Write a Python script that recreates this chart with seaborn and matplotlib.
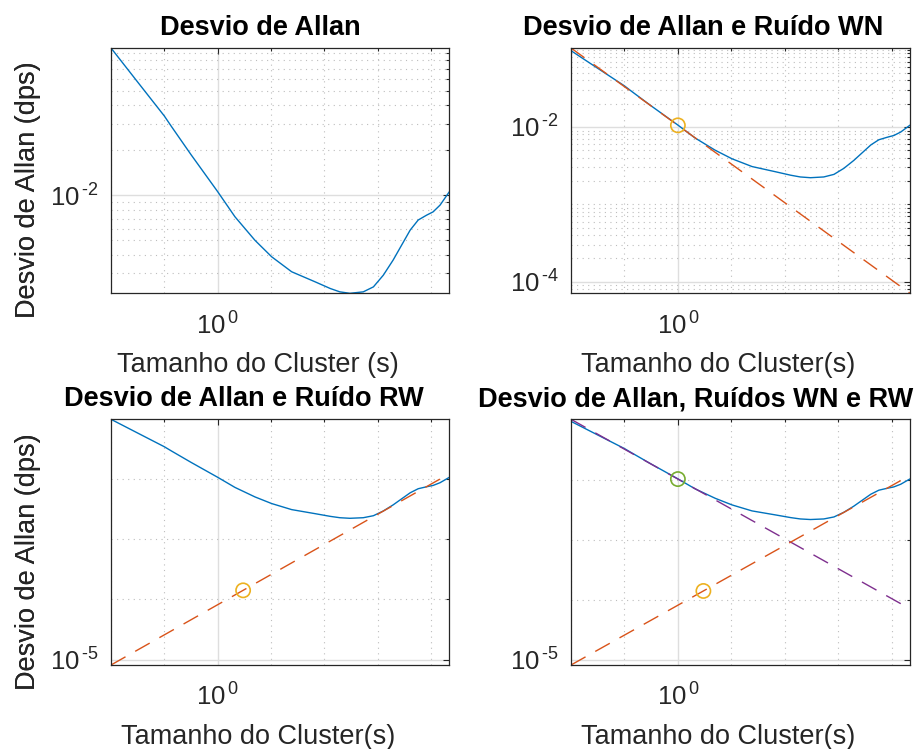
import numpy as np
import matplotlib
matplotlib.use("Agg")
import matplotlib.pyplot as plt
from matplotlib.ticker import FixedLocator, FuncFormatter, NullFormatter
import seaborn as sns

# Allan deviation of the gyro: cluster time (s) and deviation (dps)
tau = [0.01, 0.0316, 0.1, 0.137, 0.316, 1.0, 2.11, 5.01, 10.3, 24.4, 66.8,
       129, 195, 302, 537, 832, 1274, 1950, 2818, 4074, 5754, 8318,
       10965, 14791, 22030]
adev = [0.0970, 0.0574, 0.0340, 0.0288, 0.01875, 0.01059, 0.00719, 0.00500,
        0.00388, 0.00308, 0.00264, 0.00238, 0.00226, 0.00221, 0.00226,
        0.00244, 0.00292, 0.00369, 0.00465, 0.00586, 0.00684, 0.00738,
        0.00776, 0.00861, 0.01057]

# White-noise (angle random walk) fit line, slope -1/2, and its point at tau = 1 s
wn_tau = [0.01, 22030]
wn_adev = [0.105, 7.08e-5]
wn_point = (1.0, 0.0105)

# Rate random walk fit line, slope +1/2, and its point at tau = 3 s
rw_tau = [0.01, 22030]
rw_adev = [8.14e-6, 0.0121]
rw_point = (3.0, 1.41e-4)

titles = ["Desvio de Allan", "Desvio de Allan e Ruído WN",
          "Desvio de Allan e Ruído RW", "Desvio de Allan, Ruídos WN e RW"]
xlabels = ["Tamanho do Cluster (s)", "Tamanho do Cluster(s)",
           "Tamanho do Cluster(s)", "Tamanho do Cluster(s)"]
ylabel = "Desvio de Allan (dps)"

BLUE, ORANGE, YELLOW, PURPLE, GREEN = "#0072BD", "#D95319", "#EDB120", "#7E2F8E", "#77AC30"
INK = "#262626"

sns.set_style("white")
plt.rcParams.update({
    "font.family": ["Liberation Sans", "DejaVu Sans"],
    "mathtext.fontset": "custom",
    "mathtext.rm": "Liberation Sans",
    "mathtext.it": "Liberation Sans:italic",
    "mathtext.bf": "Liberation Sans:bold",
    "axes.axisbelow": True,
})

W, H = 920, 749
fig = plt.figure(figsize=(W / 100, H / 100), dpi=100)

# axes boxes in pixels: left, top, right, bottom
boxes = [(111, 48, 449.3, 293.3), (571, 48, 910, 293.3),
         (111, 419.3, 449.3, 665), (571, 419.3, 910, 665)]
title_x = [0.440, 0.389, 0.393, 0.369]

def pow10(v, pos):
    e = int(round(np.log10(v)))
    return r"$\mathregular{10^{\,\text{%d}}}$" % e

def decades(a, b):
    return [10.0 ** k for k in range(a, b + 1)]

def multiples(a, b):
    return [m * 10.0 ** k for k in range(a, b + 1) for m in range(1, 10)]

ymajor = [[1e-2], [1e-4, 1e-2], [1e-5], [1e-5]]
yminor = [
    [v for v in multiples(-4, -1) if abs(np.log10(v) + 2) > 1e-9],
    [v for v in multiples(-5, -1) if abs(np.log10(v) + 2) > 1e-9 and abs(np.log10(v) + 4) > 1e-9],
    decades(-4, -2),
    decades(-4, -2),
]

def circle(ax, pt, color):
    sns.scatterplot(x=[pt[0]], y=[pt[1]], ax=ax, marker="o", s=105,
                    color=color, facecolor="none", edgecolor=color,
                    linewidth=1.2, zorder=5, clip_on=False)

def fit_line(ax, xs, ys, color):
    sns.lineplot(x=xs, y=ys, ax=ax, color=color, lw=1.0,
                 ls=(0, (12, 8)), estimator=None, sort=False)

for i, (l, t, r, b) in enumerate(boxes):
    ax = fig.add_axes([l / W, 1 - b / H, (r - l) / W, (b - t) / H])
    ax.set_xscale("log")
    ax.set_yscale("log")

    ys = list(adev)
    sns.lineplot(x=tau, y=adev, ax=ax, color=BLUE, lw=1.0, estimator=None, sort=False)
    if i == 1:
        fit_line(ax, wn_tau, wn_adev, ORANGE)
        circle(ax, wn_point, YELLOW)
        ys += wn_adev
    if i == 2:
        fit_line(ax, rw_tau, rw_adev, ORANGE)
        circle(ax, rw_point, YELLOW)
        ys += rw_adev
    if i == 3:
        fit_line(ax, wn_tau, wn_adev, PURPLE)
        fit_line(ax, rw_tau, rw_adev, ORANGE)
        circle(ax, wn_point, GREEN)
        circle(ax, rw_point, YELLOW)
        ys += wn_adev + rw_adev

    ax.set_xlim(min(tau), max(tau))
    ax.set_ylim(min(ys), max(ys))

    ax.xaxis.set_major_locator(FixedLocator([1.0]))
    ax.xaxis.set_minor_locator(FixedLocator(decades(-2, 4)))
    ax.yaxis.set_major_locator(FixedLocator(ymajor[i]))
    ax.yaxis.set_minor_locator(FixedLocator(yminor[i]))
    ax.xaxis.set_major_formatter(FuncFormatter(pow10))
    ax.yaxis.set_major_formatter(FuncFormatter(pow10))
    ax.xaxis.set_minor_formatter(NullFormatter())
    ax.yaxis.set_minor_formatter(NullFormatter())

    ax.grid(which="major", color="#dedede", lw=1.0, ls="-")
    ax.grid(which="minor", color="#bdbdbd", lw=0.8, ls=(0, (1, 4)))

    for s in ax.spines.values():
        s.set_color(INK)
        s.set_linewidth(0.9)
    ax.tick_params(which="both", direction="in", top=True, right=True,
                   color=INK, labelcolor=INK, width=0.8)
    ax.tick_params(which="major", length=4.2, labelsize=18.5)
    ax.tick_params(which="minor", length=2.3)
    ax.tick_params(axis="x", which="major", pad=13.5)
    ax.tick_params(axis="y", which="major", pad=9)

    ax.set_title(titles[i], x=title_x[i], pad=9.4, fontsize=19.5,
                 fontweight="bold", color="black")
    ax.set_xlabel(xlabels[i], fontsize=19.5, color=INK)
    ax.set_ylabel(ylabel, fontsize=19.5, color=INK)
    ax.xaxis.label.set_va("baseline")
    ax.yaxis.label.set_va("baseline")
    ax.xaxis.set_label_coords(0.435, -79 / (b - t))
    ax.yaxis.set_label_coords((35 - l) / (r - l), 0.421)

fig.savefig("out.png", dpi=100)
